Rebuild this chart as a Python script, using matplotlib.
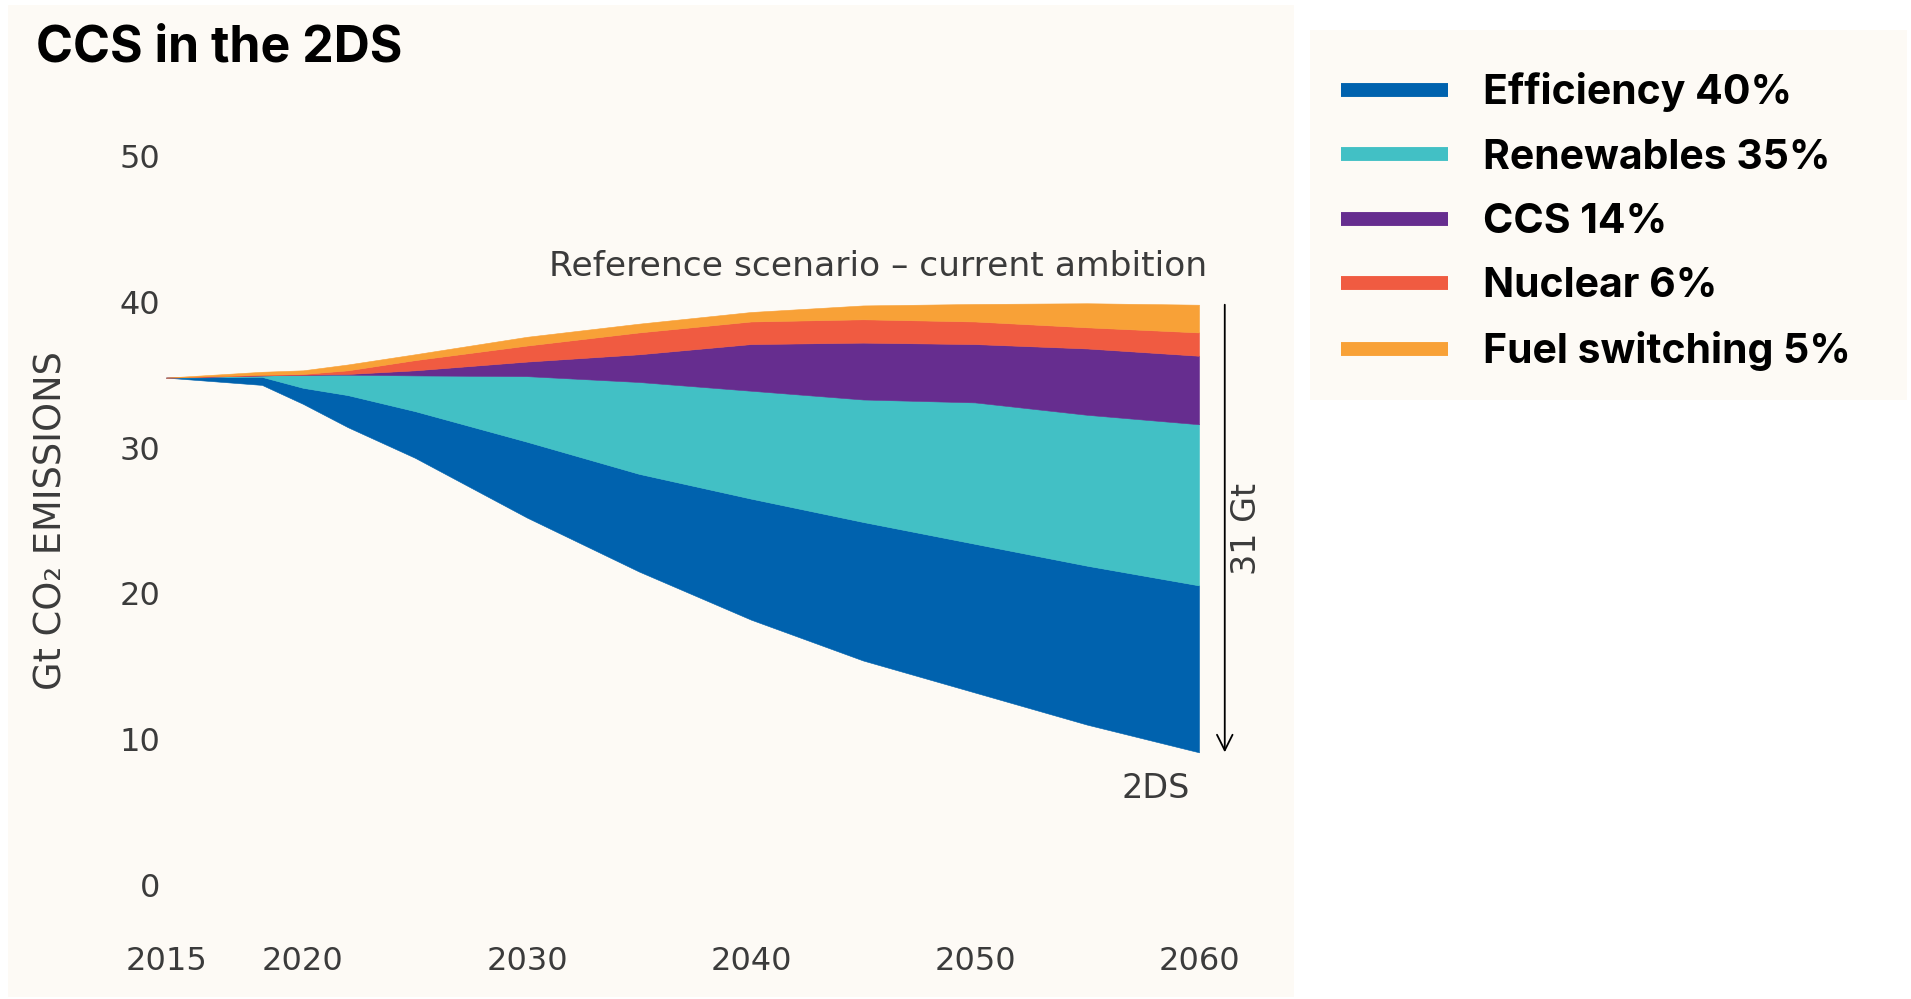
import numpy as np
import matplotlib
matplotlib.use("Agg")
import matplotlib.pyplot as plt
from matplotlib.lines import Line2D
from matplotlib.patches import Rectangle

# --- data (Gt CO2) -------------------------------------------------------
years = [2015, 2018.5, 2020, 2022, 2025, 2030, 2035, 2040, 2045, 2050, 2055, 2060]

# 2DS emission pathway (bottom of the stack)
emissions_2ds = [34.8, 34.3, 33.0, 31.4, 29.3, 25.2, 21.5, 18.2, 15.4, 13.2, 11.0, 9.1]

# abatement wedges between 2DS and the reference scenario
efficiency     = [0.0, 0.55, 1.1, 2.2, 3.2, 5.2, 6.7, 8.3, 9.5, 10.2, 10.9, 11.45]
renewables     = [0.0, 0.10, 0.9, 1.4, 2.45, 4.5, 6.3, 7.4, 8.4, 9.7, 10.35, 11.05]
ccs            = [0.0, 0.0, 0.0, 0.05, 0.35, 1.0, 1.9, 3.2, 3.9, 4.0, 4.55, 4.7]
nuclear        = [0.0, 0.05, 0.05, 0.25, 0.7, 1.1, 1.5, 1.55, 1.6, 1.55, 1.45, 1.6]
fuel_switching = [0.0, 0.2, 0.25, 0.4, 0.4, 0.6, 0.6, 0.65, 0.95, 1.2, 1.65, 1.9]

wedge_labels = ["Efficiency 40%", "Renewables 35%", "CCS 14%",
                "Nuclear 6%", "Fuel switching 5%"]
wedge_colors = ["#0062AE", "#42C0C5", "#662D8F", "#F05B41", "#F8A137"]

x_ticks = [2015, 2020, 2030, 2040, 2050, 2060]
y_ticks = [0, 10, 20, 30, 40, 50]

# --- style ---------------------------------------------------------------
BODY = ["DejaVu Sans"]
HEAD = ["Inter", "DejaVu Sans"]
plt.rcParams["font.family"] = BODY
TEXT_GREY = "#3b3b3b"
PANEL = "#FDFAF5"

W, H = 1911, 999
fig = plt.figure(figsize=(W / 100, H / 100), dpi=100, facecolor="white")

# cream panels behind the chart and the legend
fig.patches.append(Rectangle((8 / W, 1 - 997 / H), (1294 - 8) / W, (997 - 5) / H,
                             transform=fig.transFigure, facecolor=PANEL,
                             edgecolor="none", zorder=-10))
fig.patches.append(Rectangle((1310 / W, 1 - 400 / H), (1907 - 1310) / W, (400 - 30) / H,
                             transform=fig.transFigure, facecolor=PANEL,
                             edgecolor="none", zorder=-10))

ax = fig.add_axes([166 / W, 1 - 885 / H, (1199 - 166) / W, (885 - 156) / H])
ax.set_facecolor("none")

# the first five years are spread out on the time axis
STRETCH = 137 / 112


def fwd(x):
    x = np.asarray(x, dtype=float)
    return np.where(x < 2020, 2020 - (2020 - x) * STRETCH, x)


def inv(u):
    u = np.asarray(u, dtype=float)
    return np.where(u < 2020, 2020 - (2020 - u) / STRETCH, u)


ax.set_xscale("function", functions=(fwd, inv))

# stacked wedges on top of the 2DS pathway
lower = np.array(emissions_2ds, dtype=float)
for vals, col in zip([efficiency, renewables, ccs, nuclear, fuel_switching], wedge_colors):
    upper = lower + np.array(vals, dtype=float)
    ax.fill_between(years, lower, upper, facecolor=col, edgecolor=col,
                    linewidth=0.4, zorder=2)
    lower = upper
reference = lower

ax.set_xlim(years[0], years[-1])
ax.set_ylim(0, 50)
ax.set_xticks(x_ticks)
ax.set_xticklabels([str(t) for t in x_ticks])
ax.set_yticks(y_ticks)
ax.set_yticklabels([str(t) for t in y_ticks])
ax.tick_params(axis="both", length=0, labelsize=23, labelcolor=TEXT_GREY)
ax.tick_params(axis="x", pad=44)
ax.tick_params(axis="y", pad=4)
for s in ax.spines.values():
    s.set_visible(False)

ax.set_ylabel("Gt CO\u2082 EMISSIONS", fontsize=26.5, color=TEXT_GREY)
ax.yaxis.set_label_coords(-0.093, 0.5)

# title
fig.text(36 / W, 1 - 48 / H, "CCS in the 2DS", fontsize=36, fontweight="bold",
         family=HEAD, color="black", ha="left", va="center")

# reference-scenario label
ax.text(years[-1] + 0.35, 42.4, "Reference scenario \u2013 current ambition",
        fontsize=24.8, color=TEXT_GREY, ha="right", va="center")

# gap arrow between reference and 2DS in the final year
x_arrow = years[-1] + 1.15
gap = reference[-1] - emissions_2ds[-1]
ax.annotate("", xy=(x_arrow, emissions_2ds[-1]), xytext=(x_arrow, reference[-1]),
            arrowprops=dict(arrowstyle="->", color="black", lw=1.3,
                            mutation_scale=28, shrinkA=0, shrinkB=0),
            annotation_clip=False)
ax.text(x_arrow + 0.95, (reference[-1] + emissions_2ds[-1]) / 2,
        f"{gap:.0f} Gt", rotation=90, fontsize=24, color=TEXT_GREY,
        ha="center", va="center")
ax.text(years[-1] - 0.4, 6.6, "2DS", fontsize=24, color=TEXT_GREY,
        ha="right", va="center")

# legend
handles = [Line2D([0], [0], color=c, lw=10, solid_capstyle="butt") for c in wedge_colors]
fig.legend(handles, wedge_labels, loc="upper left",
           bbox_to_anchor=(1341 / W, 1 - 72.5 / H), frameon=False,
           prop=dict(family=HEAD, weight="bold", size=29.5),
           handlelength=2.6, handletextpad=0.87, labelspacing=0.64,
           borderpad=0, borderaxespad=0)

fig.savefig("out.png", dpi=100, facecolor="white")
